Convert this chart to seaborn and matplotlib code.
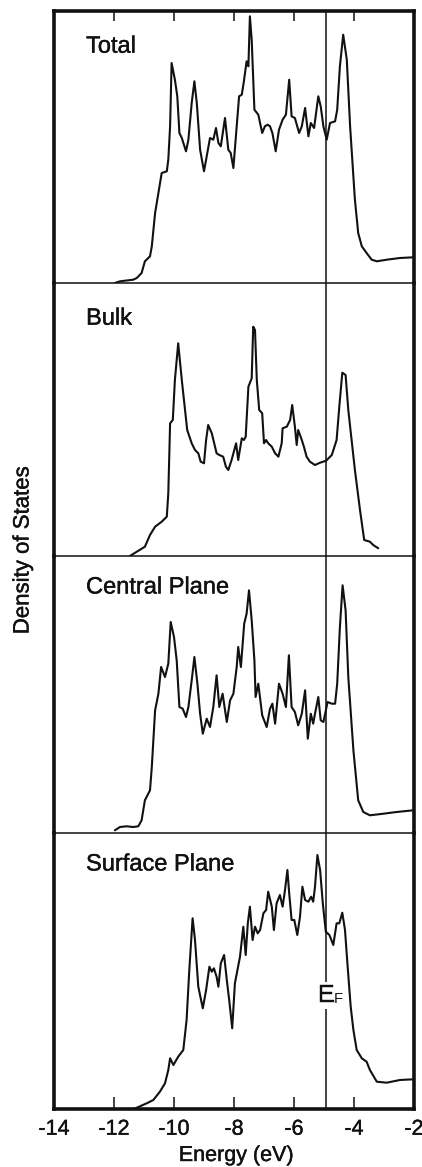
import matplotlib
matplotlib.use("Agg")
import matplotlib.pyplot as plt
import matplotlib.patheffects as pe
import seaborn as sns
import numpy as np

# ---- data: density of states (arbitrary units) vs. energy (eV) ----
total_e = [-11.97, -11.80, -11.36, -11.24, -11.08, -10.97, -10.80, -10.74, -10.63, -10.52,
           -10.41, -10.24, -10.19, -10.13, -10.08, -9.97, -9.89, -9.82, -9.74, -9.60,
           -9.52, -9.41, -9.32, -9.24, -9.13, -9.00, -8.89, -8.80, -8.69, -8.60,
           -8.52, -8.44, -8.30, -8.19, -8.11, -8.02, -7.91, -7.83, -7.74, -7.67,
           -7.58, -7.52, -7.47, -7.41, -7.32, -7.19, -7.06, -6.97, -6.88, -6.80,
           -6.72, -6.61, -6.50, -6.38, -6.27, -6.16, -6.08, -5.97, -5.83, -5.74,
           -5.63, -5.52, -5.44, -5.33, -5.19, -5.11, -5.02, -4.91, -4.80, -4.63,
           -4.56, -4.47, -4.36, -4.24, -4.13, -3.97, -3.86, -3.74, -3.58, -3.41,
           -3.24, -2.91, -2.47, -2.02]
total_dos = [0, 1.7, 3.3, 5, 10, 21.7, 26.7, 36.7, 70, 90,
             110, 111.7, 123.3, 156.7, 220, 203.3, 186.7, 150, 145, 131.7,
             143.3, 180, 201.7, 180, 133.3, 111.7, 130, 145, 143.3, 155,
             140, 136.7, 165, 133.3, 130, 115, 156.7, 186.7, 188.3, 201.7,
             221.7, 216.7, 266.7, 243.3, 173.3, 168.3, 150, 156.7, 158.3, 156.7,
             150, 131.7, 153.3, 163.3, 168.3, 203.3, 166.7, 165, 150, 156.7,
             175, 146.7, 160, 155, 186.7, 176.7, 156.7, 143.3, 160, 161.7,
             173.3, 216.7, 248.3, 223.3, 156.7, 83.3, 50, 36.7, 30, 23.3,
             21.7, 23.3, 25, 25.7]

bulk_e = [-11.47, -11.24, -10.97, -10.80, -10.63, -10.41, -10.24, -10.19, -10.13, -10.04,
          -9.97, -9.86, -9.74, -9.56, -9.41, -9.30, -9.19, -9.11, -9.00, -8.93,
          -8.86, -8.74, -8.58, -8.49, -8.36, -8.27, -8.19, -8.08, -7.93, -7.86,
          -7.74, -7.67, -7.61, -7.52, -7.41, -7.36, -7.30, -7.24, -7.16, -7.06,
          -7.00, -6.93, -6.86, -6.74, -6.63, -6.52, -6.41, -6.38, -6.24, -6.13,
          -6.06, -5.97, -5.91, -5.86, -5.74, -5.67, -5.58, -5.47, -5.30, -5.13,
          -4.93, -4.74, -4.58, -4.49, -4.39, -4.28, -4.19, -3.97, -3.80, -3.66,
          -3.47, -3.36, -3.19]
bulk_dos = [0, 4.3, 9.3, 21, 29.3, 34.3, 39.3, 62.7, 132.7, 136,
            176, 212.7, 176, 126, 112.7, 106, 102.7, 94.3, 92.7, 116,
            131, 122.7, 102.7, 101, 99.3, 89.3, 86, 96, 112.7, 96,
            117.7, 116, 119.3, 169.3, 177.7, 229.3, 226, 176, 146, 142.7,
            112.7, 116, 112.7, 109.3, 102.7, 99.3, 112.7, 127.7, 129.3, 136,
            151, 129.3, 111, 126, 116, 109.3, 99.3, 94.3, 91, 93.3,
            95.3, 101, 116, 149.3, 183.3, 181, 146, 86, 46, 16,
            14.3, 11, 7.7]

central_e = [-11.97, -11.80, -11.58, -11.36, -11.19, -11.08, -10.97, -10.80, -10.74, -10.63,
             -10.52, -10.43, -10.30, -10.19, -10.11, -10.00, -9.91, -9.82, -9.71, -9.60,
             -9.52, -9.41, -9.32, -9.22, -9.13, -9.04, -8.91, -8.80, -8.69, -8.58,
             -8.49, -8.38, -8.24, -8.13, -8.02, -7.91, -7.86, -7.77, -7.66, -7.58,
             -7.50, -7.41, -7.32, -7.28, -7.19, -7.06, -6.91, -6.80, -6.72, -6.63,
             -6.50, -6.38, -6.27, -6.17, -6.08, -5.97, -5.86, -5.74, -5.63, -5.54,
             -5.44, -5.36, -5.30, -5.19, -5.11, -5.02, -4.88, -4.74, -4.63, -4.56,
             -4.47, -4.38, -4.28, -4.19, -4.02, -3.86, -3.69, -3.47, -3.02, -2.58,
             -2.02]
central_dos = [2.7, 6, 6.7, 6, 6.7, 12.7, 32.7, 42.7, 66, 122.7,
               139.3, 166, 156, 169.3, 211, 196, 172.7, 126, 124.3, 116,
               126, 152.7, 176, 149.3, 119.3, 99.3, 114.3, 106, 126, 157.7,
               126, 139.3, 111, 132.7, 139.3, 166, 186, 166, 209.3, 219.3,
               242.7, 212.7, 172.7, 136, 149.3, 117.7, 106, 124.3, 129.3, 109.3,
               149.3, 139.3, 126, 177.7, 126, 121, 107.7, 119.3, 142.7, 94.3,
               119.3, 109.3, 119.3, 136, 112.7, 111, 131, 129.3, 129.3, 149.3,
               206, 247.7, 222.7, 156, 82.7, 32.7, 21, 17.7, 19.3, 21,
               22.7]

surface_e = [-11.30, -10.91, -10.69, -10.47, -10.30, -10.19, -10.13, -10.02, -9.86, -9.69,
             -9.58, -9.49, -9.38, -9.30, -9.19, -9.04, -8.93, -8.82, -8.74, -8.67,
             -8.58, -8.52, -8.44, -8.33, -8.24, -8.16, -8.06, -7.97, -7.80, -7.69,
             -7.61, -7.54, -7.47, -7.38, -7.30, -7.21, -7.13, -7.02, -6.93, -6.86,
             -6.74, -6.67, -6.58, -6.47, -6.38, -6.30, -6.22, -6.16, -6.08, -5.99,
             -5.89, -5.80, -5.72, -5.63, -5.52, -5.43, -5.36, -5.30, -5.22, -5.13,
             -5.04, -4.94, -4.82, -4.69, -4.58, -4.49, -4.39, -4.30, -4.22, -4.11,
             -4.02, -3.91, -3.74, -3.58, -3.47, -3.24, -2.91, -2.47, -2.02]
surface_dos = [0.5, 5.7, 9, 17.3, 25.7, 39, 50.7, 44, 52.3, 59,
               89, 139, 190.7, 169, 122.3, 100.7, 119, 142.3, 137.3, 140.7,
               132.3, 122.3, 145.7, 154, 129, 109, 80.7, 125.7, 152.3, 182.3,
               154, 185.7, 202.3, 169, 182.3, 175.7, 179, 195.7, 199, 217.3,
               202.3, 179, 205.7, 214, 202.3, 219, 239, 215.7, 189, 189,
               174, 192.3, 222.3, 209, 207.3, 212.3, 207.3, 222.3, 254, 239,
               205.7, 177.3, 174, 164, 185.7, 185.7, 196.3, 179, 145.7, 102.3,
               79, 59, 50.7, 47.3, 39, 27.3, 26.3, 29, 29.7]

panel_names = ["Total", "Bulk", "Central Plane", "Surface Plane"]
fermi_energy = -4.92
x_ticks = [-14, -12, -10, -8, -6, -4, -2]

# ---- figure ----
sns.set_style("white")
plt.rcParams["font.family"] = ["Liberation Sans", "DejaVu Sans"]

series = [(total_e, total_dos), (bulk_e, bulk_dos),
          (central_e, central_dos), (surface_e, surface_dos)]
panel_heights = [272, 273, 277, 276]
label_drop = [30, 30, 27, 27]  # label baseline below panel top, points

W, H = 422, 1167
fig = plt.figure(figsize=(W / 100, H / 100), dpi=100)
gs = fig.add_gridspec(4, 1, left=54 / W, right=414 / W,
                      top=1 - 11 / H, bottom=1 - 1109 / H,
                      hspace=0, height_ratios=panel_heights)

ink = "#111111"
frame_lw = 2.6
sep_lw = 1.1
heavy = [pe.withStroke(linewidth=0.3, foreground=ink)]

axes = []
for i, ((e, d), name, ph) in enumerate(zip(series, panel_names, panel_heights)):
    ax = fig.add_subplot(gs[i])
    ax.patch.set_visible(False)
    axes.append(ax)
    sns.lineplot(x=e, y=d, ax=ax, color=ink, lw=1.5,
                 estimator=None, sort=False)
    ax.set_xlim(-14, -2)
    ax.set_ylim(0, ph)
    ax.set_yticks([])
    ax.set_xlabel("")
    ax.set_ylabel("")
    ax.axvline(fermi_energy, color=ink, lw=1.1, zorder=1)
    for s in ("left", "right"):
        ax.spines[s].set_linewidth(frame_lw)
        ax.spines[s].set_color(ink)
    ax.spines["top"].set_linewidth(frame_lw if i == 0 else sep_lw)
    ax.spines["top"].set_color(ink)
    ax.spines["bottom"].set_linewidth(frame_lw if i == 3 else sep_lw)
    ax.spines["bottom"].set_color(ink)
    ax.spines["bottom"].set_zorder(5)
    if i > 0:
        ax.spines["top"].set_visible(False)
    ax.annotate(name, xy=(0.089, 1), xycoords="axes fraction",
                xytext=(0, -label_drop[i]), textcoords="offset points",
                ha="left", va="baseline", fontsize=17, color=ink,
                path_effects=heavy)
    ax.set_xticks(x_ticks)
    if i == 0:
        ax.tick_params(axis="x", which="both", top=True, bottom=False,
                       labeltop=False, labelbottom=False,
                       direction="in", length=7.5, width=1.1, color=ink)
    elif i == 3:
        ax.tick_params(axis="x", which="both", top=False, bottom=True,
                       labelbottom=True, direction="in", length=9,
                       width=1.1, color=ink, labelsize=15.5, pad=7,
                       labelcolor=ink)
        ax.set_xticklabels([str(t) for t in x_ticks])
        for lab in ax.get_xticklabels():
            lab.set_path_effects(heavy)
    else:
        ax.tick_params(axis="x", which="both", top=False, bottom=False,
                       labelbottom=False)

# Fermi level marker on the lowest panel
ax_s = axes[3]
ax_s.text(fermi_energy, 1109 - 1002, "E", ha="center", va="baseline",
          fontsize=18, color=ink, zorder=3, path_effects=heavy,
          bbox=dict(facecolor="white", edgecolor="none", pad=1.0))
ax_s.annotate("F", xy=(fermi_energy, 1109 - 1003), xycoords="data",
              xytext=(5.2, 0), textcoords="offset points",
              ha="left", va="baseline", fontsize=10.5, color=ink, zorder=3)

fig.text(236 / W, 1 - 1161 / H, "Energy (eV)", ha="center", va="baseline",
         fontsize=15.5, color=ink, path_effects=heavy)
fig.text(23 / W, 1 - 550 / H, "Density of States", ha="center", va="center",
         rotation=90, fontsize=16, color=ink, path_effects=heavy)

fig.savefig("out.png", dpi=100, facecolor="white")
